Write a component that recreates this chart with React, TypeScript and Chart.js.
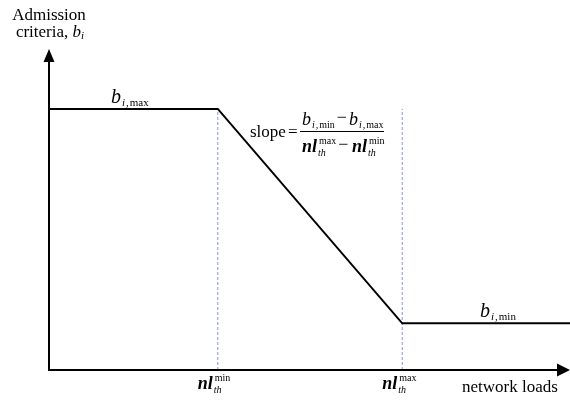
import React, { useEffect, useRef } from "react";
import { Chart, registerables } from "chart.js";

Chart.register(...registerables);

// ---- data ----
const networkLoads = [0, 3.24, 6.78, 10];
const admissionCriteria = [8.16, 8.16, 1.46, 1.46];
const thresholdLoads = [3.24, 6.78];
const thresholdNames = ["min", "max"];
const xRange = [0, 10];
const yRange = [0, 10];

const SERIF = '"Liberation Serif", "Times New Roman", serif';

function put(ctx: CanvasRenderingContext2D, s: string, x: number, y: number, size: number, style = "") {
  ctx.font = `${style} ${size}px ${SERIF}`.trim();
  ctx.fillText(s, x, y);
  return x + ctx.measureText(s).width;
}

function width(ctx: CanvasRenderingContext2D, s: string, size: number, style = "") {
  ctx.font = `${style} ${size}px ${SERIF}`.trim();
  return ctx.measureText(s).width;
}

// b_{i,sub}
function drawB(ctx: CanvasRenderingContext2D, x: number, y: number, sub: string, size: number, subSize: number) {
  let cx = put(ctx, "b", x, y, size, "italic");
  cx = put(ctx, "i", cx + 1, y + 3, subSize, "italic");
  cx = put(ctx, ",", cx + 1, y + 3, subSize);
  cx = put(ctx, sub, cx + 1, y + 3, subSize);
  return cx;
}

// nl_th^sup
function drawNl(ctx: CanvasRenderingContext2D, x: number, y: number, sup: string, size: number, subSize: number) {
  const cx = put(ctx, "nl", x, y, size, "italic bold");
  const a = put(ctx, sup, cx + 2, y - 8, subSize);
  const b = put(ctx, "th", cx + 1, y + 4, subSize, "italic");
  return Math.max(a, b);
}

const annotations = {
  id: "annotations",
  afterDraw(chart: any) {
    const { ctx, chartArea: a, scales } = chart;
    const xs = scales.x;
    const ys = scales.y;
    ctx.save();
    ctx.strokeStyle = "#000";
    ctx.fillStyle = "#000";
    ctx.lineWidth = 2;
    // axes
    ctx.beginPath();
    ctx.moveTo(a.left, a.bottom);
    ctx.lineTo(a.left, a.top + 10);
    ctx.moveTo(a.left - 1, a.bottom);
    ctx.lineTo(a.right - 10, a.bottom);
    ctx.stroke();
    // arrowheads
    ctx.beginPath();
    ctx.moveTo(a.left, a.top - 1);
    ctx.lineTo(a.left - 5.5, a.top + 12);
    ctx.lineTo(a.left + 5.5, a.top + 12);
    ctx.closePath();
    ctx.fill();
    ctx.beginPath();
    ctx.moveTo(a.right, a.bottom);
    ctx.lineTo(a.right - 13, a.bottom - 6.5);
    ctx.lineTo(a.right - 13, a.bottom + 6.5);
    ctx.closePath();
    ctx.fill();

    ctx.textBaseline = "alphabetic";
    ctx.textAlign = "left";

    // y-axis title
    const w1 = width(ctx, "Admission", 17);
    put(ctx, "Admission", a.left - w1 / 2, 20, 17);
    const w2 = width(ctx, "criteria, ", 17) + width(ctx, "b", 17, "italic") + width(ctx, "i", 11, "italic");
    let cx = put(ctx, "criteria, ", a.left + 1 - w2 / 2, 37, 17);
    cx = put(ctx, "b", cx, 37, 17, "italic");
    put(ctx, "i", cx, 39, 11, "italic");

    // b_{i,max} / b_{i,min}
    const yMax = ys.getPixelForValue(admissionCriteria[0]);
    const yMin = ys.getPixelForValue(admissionCriteria[admissionCriteria.length - 1]);
    drawB(ctx, 111, yMax - 6, "max", 20, 11);
    drawB(ctx, 480, yMin - 6, "min", 20, 11);

    // slope formula
    const sx = 250;
    const by = 137;
    put(ctx, "slope", sx, by, 17);
    put(ctx, "=", 288, by, 17);
    ctx.lineWidth = 1;
    ctx.beginPath();
    ctx.moveTo(300, 131.5);
    ctx.lineTo(384, 131.5);
    ctx.stroke();
    const nx = drawB(ctx, 302, 125, "min", 18, 10);
    put(ctx, "\u2212", nx + 2, 123, 18);
    drawB(ctx, 349, 125, "max", 18, 10);
    const dx = drawNl(ctx, 302, 152, "max", 18, 10);
    put(ctx, "\u2212", dx + 2, 150, 18);
    drawNl(ctx, 352, 152, "min", 18, 10);

    // threshold labels
    thresholdLoads.forEach((t, i) => {
      const px = xs.getPixelForValue(t);
      drawNl(ctx, px - 20, 389, thresholdNames[i], 18, 10);
    });

    // x-axis title
    put(ctx, "network loads", 462, 392, 17);
    ctx.restore();
  },
};

export default function App() {
  const ref = useRef<HTMLCanvasElement>(null);
  useEffect(() => {
    document.body.style.margin = "0";
    const canvas = ref.current!;
    const chart = new Chart(canvas, {
      type: "line",
      data: {
        datasets: [
          {
            data: networkLoads.map((v, i) => ({ x: v, y: admissionCriteria[i] })),
            borderColor: "#000",
            borderWidth: 2,
            pointRadius: 0,
            tension: 0,
            borderJoinStyle: "miter",
          },
          ...thresholdLoads.map((t) => ({
            data: [
              { x: t, y: yRange[0] },
              { x: t, y: admissionCriteria[0] },
            ],
            borderColor: "#8c8cff",
            borderWidth: 1,
            borderDash: [3, 2],
            pointRadius: 0,
          })),
        ],
      },
      options: {
        responsive: false,
        animation: false,
        events: [],
        layout: { padding: { left: 49, right: 0, top: 50, bottom: 31 } },
        plugins: { legend: { display: false }, tooltip: { enabled: false } },
        scales: {
          x: { type: "linear", min: xRange[0], max: xRange[1], display: false },
          y: { type: "linear", min: yRange[0], max: yRange[1], display: false },
        },
      },
      plugins: [annotations],
    } as any);
    return () => chart.destroy();
  }, []);
  return <canvas ref={ref} width={570} height={401} style={{ display: "block" }} />;
}
